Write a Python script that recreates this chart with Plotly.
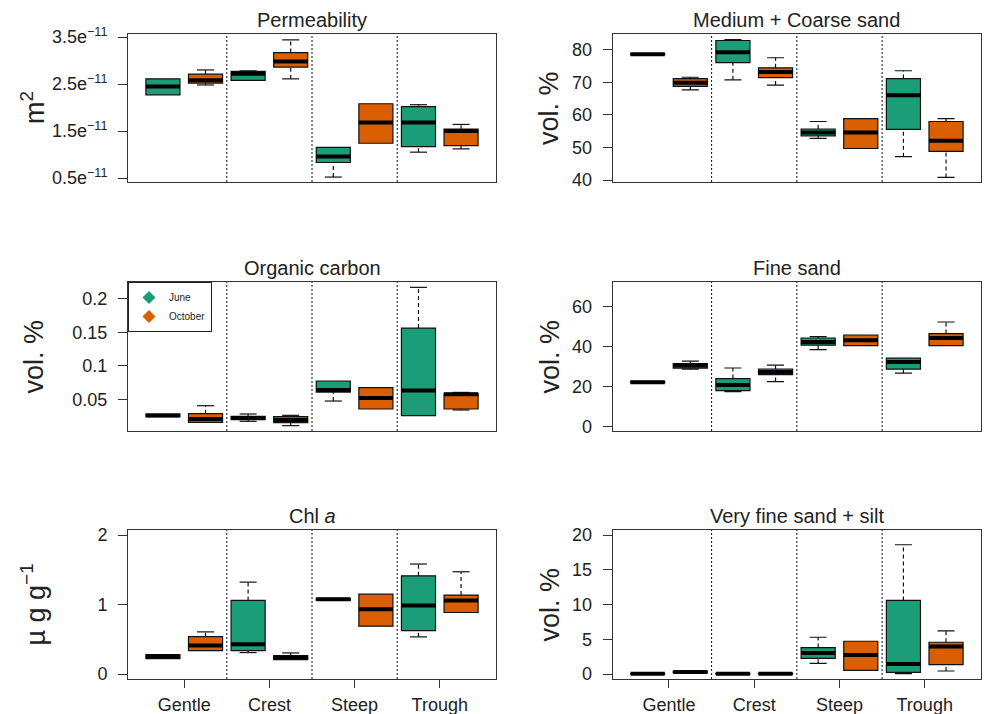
import plotly.graph_objects as go

# ---------------- data ----------------
categories = ["Gentle", "Crest", "Steep", "Trough"]
seasons = ["June", "October"]
season_colors = ["#1B9E77", "#D95F02"]

# five-number summaries per category: [lower whisker, Q1, median, Q3, upper whisker]
perm_june = [[2.27, 2.27, 2.45, 2.61, 2.61], [2.58, 2.58, 2.72, 2.77, 2.78],
             [0.52, 0.83, 0.96, 1.15, 1.15], [1.05, 1.17, 1.68, 2.02, 2.06]]
perm_oct = [[2.48, 2.52, 2.58, 2.71, 2.80], [2.61, 2.86, 2.98, 3.17, 3.44],
            [1.24, 1.24, 1.68, 2.08, 2.08], [1.12, 1.19, 1.50, 1.54, 1.64]]

mcs_june = [[78.5, 78.5, 78.7, 78.9, 78.9], [70.8, 76.1, 79.3, 82.9, 83.2],
            [52.8, 53.6, 54.6, 55.7, 58.0], [47.2, 55.6, 66.1, 71.2, 73.6]]
mcs_oct = [[67.7, 68.8, 69.9, 71.2, 71.6], [69.2, 71.5, 73.2, 74.5, 77.6],
           [49.7, 49.7, 54.6, 58.9, 58.9], [40.8, 48.8, 52.1, 58.0, 58.9]]

oc_june = [[0.024, 0.024, 0.026, 0.028, 0.028], [0.0172, 0.0197, 0.022, 0.0246, 0.0281],
           [0.0475, 0.0609, 0.0639, 0.0774, 0.0774], [0.0256, 0.0256, 0.0634, 0.1565, 0.2174]]
oc_oct = [[0.0157, 0.0157, 0.0206, 0.0286, 0.0405], [0.0107, 0.0152, 0.0191, 0.0241, 0.0261],
          [0.0356, 0.0356, 0.052, 0.0674, 0.0674], [0.0341, 0.0356, 0.0575, 0.059, 0.0604]]

fs_june = [[21.8, 21.8, 22.2, 22.6, 22.6], [17.5, 18.0, 20.8, 24.0, 29.3],
           [38.5, 40.7, 42.3, 44.3, 45.0], [26.7, 28.7, 32.3, 34.2, 34.2]]
fs_oct = [[28.7, 29.2, 30.5, 31.5, 32.7], [22.5, 26.0, 27.3, 28.8, 30.7],
          [40.5, 40.5, 43.2, 45.8, 45.8], [40.5, 40.5, 44.3, 46.5, 52.3]]

chl_june = [[0.22, 0.22, 0.25, 0.28, 0.28], [0.308, 0.337, 0.428, 1.058, 1.322],
            [1.06, 1.06, 1.077, 1.09, 1.09], [0.534, 0.625, 0.986, 1.413, 1.582]]
chl_oct = [[0.337, 0.337, 0.409, 0.538, 0.606], [0.207, 0.207, 0.236, 0.264, 0.303],
           [0.688, 0.688, 0.933, 1.149, 1.149], [0.885, 0.885, 1.058, 1.135, 1.471]]

vfs_june = [[0.0, 0.0, 0.05, 0.1, 0.1], [0.0, 0.0, 0.05, 0.1, 0.1],
            [1.54, 2.26, 3.03, 3.8, 5.29], [0.05, 0.24, 1.44, 10.58, 18.6]]
vfs_oct = [[0.2, 0.2, 0.3, 0.38, 0.38], [0.0, 0.0, 0.05, 0.1, 0.1],
           [0.53, 0.53, 2.74, 4.71, 4.71], [0.43, 1.35, 3.94, 4.57, 6.2]]

panel_titles = ["Permeability", "Medium + Coarse sand", "Organic carbon",
                "Fine sand", "Chl <i>a</i>", "Very fine sand + silt"]
panel_ytitles = ["m<sup>2</sup>", "vol. %", "vol. %", "vol. %",
                 "\u00b5 g g<sup>\u22121</sup>", "vol. %"]
panel_data = [(perm_june, perm_oct), (mcs_june, mcs_oct), (oc_june, oc_oct),
              (fs_june, fs_oct), (chl_june, chl_oct), (vfs_june, vfs_oct)]
panel_ticks = [[0.5, 1.5, 2.5, 3.5], [40, 50, 60, 70, 80], [0.05, 0.1, 0.15, 0.2],
               [0, 20, 40, 60], [0, 1, 2], [0, 5, 10, 15, 20]]
panel_ticktext = [["0.5e<sup>\u221211</sup>", "1.5e<sup>\u221211</sup>",
                   "2.5e<sup>\u221211</sup>", "3.5e<sup>\u221211</sup>"],
                  ["40", "50", "60", "70", "80"], ["0.05", "0.1", "0.15", "0.2"],
                  ["0", "20", "40", "60"], ["0", "1", "2"], ["0", "5", "10", "15", "20"]]
panel_yrange = [[0.415, 3.565], [39.4, 84.9], [0.0027, 0.2254],
                [-2.2, 72.3], [-0.072, 2.072], [-0.72, 20.72]]

# ---------------- layout geometry ----------------
W, H = 984, 714
col_dom = [[128 / W, 496 / W], [612.7 / W, 981 / W]]
row_px = [(34, 182), (282, 431), (530, 679)]
row_dom = [[1 - b / H, 1 - t / H] for t, b in row_px]
ytitle_x = [33 / W, 549 / W]

FONT = "Liberation Sans, Arial, sans-serif"
TXT = "#222222"
LINE = "#333333"

BOXW = 0.8
CAPW = 0.4

fig = go.Figure()
layout = dict(width=W, height=H, margin=dict(l=0, r=0, t=0, b=0, autoexpand=False),
              paper_bgcolor="white", plot_bgcolor="white", template="none",
              font=dict(family=FONT, color=TXT), shapes=[], annotations=[])

n_cat = len(categories)
group_centers = [2 * i + 1.5 for i in range(n_cat)]

for k in range(6):
    r, c = divmod(k, 2)
    ax = "" if k == 0 else str(k + 1)
    xa, ya = "x" + ax, "y" + ax
    bottom = (r == 2)

    layout["xaxis" + ax] = dict(
        domain=col_dom[c], anchor=ya, range=[0.18, 2 * n_cat + 0.82], automargin=False,
        showline=True, mirror=True, linecolor=LINE, linewidth=1,
        showgrid=False, zeroline=False,
        tickvals=group_centers if bottom else None,
        ticktext=categories if bottom else None,
        ticks="outside" if bottom else "", ticklen=8, tickcolor=LINE,
        showticklabels=bottom, tickfont=dict(size=18, family=FONT, color=TXT),
        ticklabelstandoff=1)
    layout["yaxis" + ax] = dict(
        domain=row_dom[r], anchor=xa, range=panel_yrange[k], automargin=False,
        showline=True, mirror=True, linecolor=LINE, linewidth=1,
        showgrid=False, zeroline=False,
        tickvals=panel_ticks[k], ticktext=panel_ticktext[k],
        ticks="outside", ticklen=9, tickcolor=LINE,
        tickfont=dict(size=18, family=FONT, color=TXT), ticklabelstandoff=7)

    # dotted separators between groups
    for i in range(n_cat - 1):
        sep = (group_centers[i] + group_centers[i + 1]) / 2
        layout["shapes"].append(dict(
            type="line", xref=xa, yref=ya + " domain", x0=sep, x1=sep, y0=0, y1=1,
            line=dict(color="#111111", width=1, dash="2px,2px"), layer="below"))

    for s, stats in enumerate(panel_data[k]):
        pos = [2 * i + 1 + s for i in range(n_cat)]
        lo = [v[0] for v in stats]
        q1 = [v[1] for v in stats]
        med = [v[2] for v in stats]
        q3 = [v[3] for v in stats]
        hi = [v[4] for v in stats]
        fig.add_trace(go.Box(
            x=pos, q1=q1, median=med, q3=q3, lowerfence=q1, upperfence=q3,
            width=BOXW, fillcolor=season_colors[s],
            line=dict(color="#111111", width=1.2), boxpoints=False,
            xaxis=xa, yaxis=ya, showlegend=False, hoverinfo="skip"))
        # dashed whiskers
        wx, wy, cx, cy = [], [], [], []
        for p, a, b, cc, d in zip(pos, lo, q1, q3, hi):
            if a < b:
                wx += [p, p, None]; wy += [a, b, None]
                cx += [p - CAPW / 2, p + CAPW / 2, None]; cy += [a, a, None]
            if d > cc:
                wx += [p, p, None]; wy += [cc, d, None]
                cx += [p - CAPW / 2, p + CAPW / 2, None]; cy += [d, d, None]
        if wx:
            fig.add_trace(go.Scatter(
                x=wx, y=wy, mode="lines", line=dict(color="#111111", width=1.2, dash="4px,3px"),
                xaxis=xa, yaxis=ya, showlegend=False, hoverinfo="skip"))
            fig.add_trace(go.Scatter(
                x=cx, y=cy, mode="lines", line=dict(color="#111111", width=1.2),
                xaxis=xa, yaxis=ya, showlegend=False, hoverinfo="skip"))
        # thick median
        mx, my = [], []
        for p, m in zip(pos, med):
            mx += [p - BOXW / 2, p + BOXW / 2, None]; my += [m, m, None]
        fig.add_trace(go.Scatter(
            x=mx, y=my, mode="lines", line=dict(color="#000000", width=4),
            xaxis=xa, yaxis=ya, showlegend=False, hoverinfo="skip"))

    # panel title
    layout["annotations"].append(dict(
        text=panel_titles[k], xref="paper", yref="paper",
        x=sum(col_dom[c]) / 2, y=row_dom[r][1], xanchor="center", yanchor="bottom",
        yshift=1, showarrow=False, font=dict(size=20, family=FONT, color=TXT)))
    # y-axis title
    layout["annotations"].append(dict(
        text=panel_ytitles[k], xref="paper", yref="paper",
        x=ytitle_x[c], y=sum(row_dom[r]) / 2, xanchor="center", yanchor="middle",
        textangle=-90, showarrow=False, font=dict(size=27, family=FONT, color=TXT)))

# legend entries (in the Organic carbon panel)
for s in range(2):
    fig.add_trace(go.Scatter(
        x=[None], y=[None], mode="markers", name=seasons[s],
        marker=dict(symbol="diamond", size=10, color=season_colors[s]),
        xaxis="x3", yaxis="y3", showlegend=True))

layout["legend"] = dict(
    x=col_dom[0][0], y=row_dom[1][1], xanchor="left", yanchor="top",
    bgcolor="white", bordercolor="#222222", borderwidth=1,
    font=dict(size=10, family=FONT, color=TXT), itemwidth=30,
    tracegroupgap=0, traceorder="normal")

fig.update_layout(**layout)
fig.write_html("out.html")
